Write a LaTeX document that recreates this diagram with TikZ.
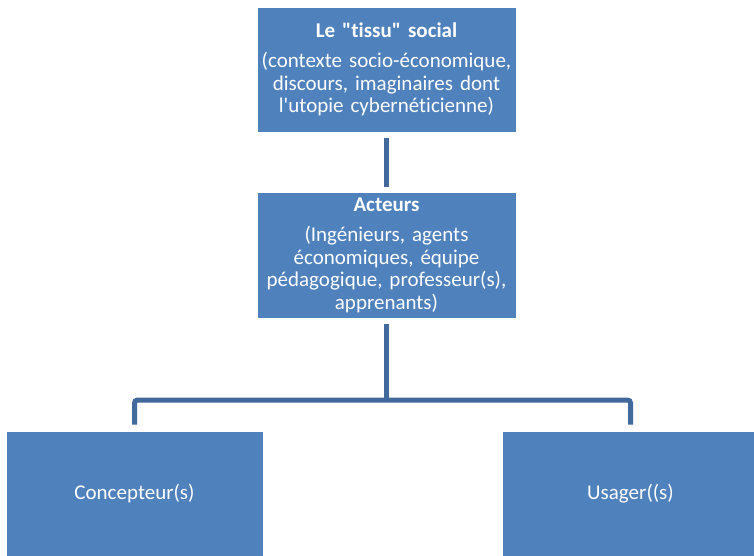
\documentclass[tikz,border=0pt]{standalone}
\usepackage{fontspec}
\setmainfont{Carlito}[Ligatures={TeXOff,NoCommon}]
\definecolor{boxblue}{HTML}{4F81BD}
\definecolor{connblue}{HTML}{41699B}
\frenchspacing
\newcommand\bxfont{\fontsize{21}{22.5}\selectfont\spaceskip=3.6pt plus 1pt minus 0.5pt\relax}
\begin{document}
\begin{tikzpicture}[x=1pt,y=-1pt,
  box/.style={rectangle, fill=boxblue, draw=white, line width=0.8pt, text=white,
    align=center, inner sep=0pt, font=\bxfont},
  conn/.style={draw=connblue, line width=5pt}]
\useasboundingbox (0,0) rectangle (754,556);
\node[box, minimum width=259pt, minimum height=125pt, text width=257pt] (soc) at (386.5,69.5)
  {\textbf{Le "tissu" social}\\[8pt](contexte socio-économique,\\discours, imaginaires dont\\l'utopie cybernéticienne)};
\node[box, minimum width=259pt, minimum height=126pt, text width=257pt] (act) at (386.5,255)
  {\textbf{Acteurs}\\[8pt](Ingénieurs, agents\\économiques, équipe\\pédagogique, professeur(s),\\apprenants)};
\node[box, minimum width=257pt, minimum height=126pt] (conc) at (134.5,494) {Concepteur(s)};
\node[box, minimum width=257pt, minimum height=126pt] (usr) at (630.5,494) {Usager((s)};
\coordinate (hl) at (134.5,400);
\draw[conn] ([yshift=-6pt]soc.south) -- ([yshift=5pt]act.north);
\draw[conn] ([yshift=-6pt]act.south) -- (act.south |- hl);
\draw[conn, rounded corners=3pt] ([yshift=6pt]conc.north) -- (conc.north |- hl) -- (usr.north |- hl) -- ([yshift=6pt]usr.north);
\end{tikzpicture}
\end{document}
